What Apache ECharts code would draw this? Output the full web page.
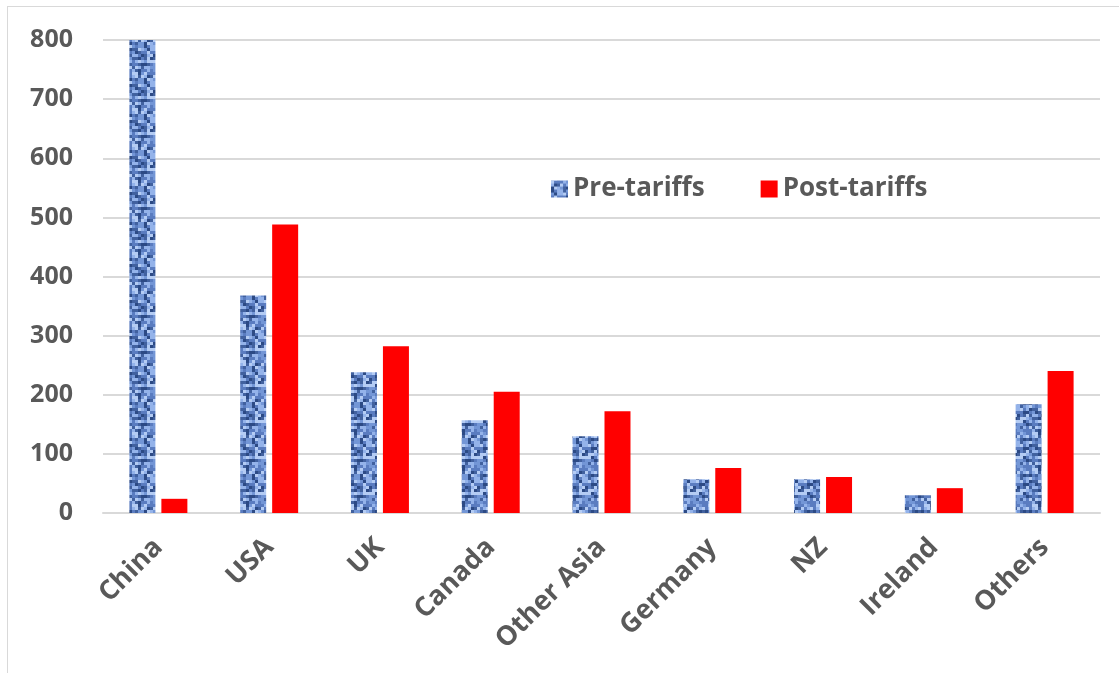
<!DOCTYPE html>
<html>
<head>
<meta charset="utf-8">
<script src="https://cdn.jsdelivr.net/npm/echarts@6/dist/echarts.min.js"></script>
<style>
  html, body { margin: 0; padding: 0; background: #fff; }
  #main { width: 1119px; height: 673px; }
  #frame { position: absolute; left: 7px; top: 6px; width: 1130px; height: 680px; border: 1px solid #d9d9d9; pointer-events: none; }
</style>
</head>
<body>
<div id="main"></div>
<div id="frame"></div>
<script>
var categories = ['China', 'USA', 'UK', 'Canada', 'Other Asia', 'Germany', 'NZ', 'Ireland', 'Others'];
var preTariffs = [800, 368, 238, 157, 130, 57, 57, 30, 184];
var postTariffs = [24, 488, 282, 205, 172, 76, 61, 42, 240];
var yTicks = [0, 100, 200, 300, 400, 500, 600, 700, 800];

// blue mottled texture for the pre-tariff bars
function makeTexture() {
  var c = document.createElement('canvas');
  c.width = 36; c.height = 36;
  var ctx = c.getContext('2d');
  var shades = ['#b4ccf4', '#94b3ea', '#7396d6', '#5a7cc0', '#41619f', '#2c4a85'];
  for (var y = 0; y < 36; y += 3) {
    for (var x = 0; x < 36; x += 3) {
      var h = Math.sin(x * 12.9898 + y * 78.233) * 43758.5453;
      h = h - Math.floor(h);
      ctx.fillStyle = shades[Math.floor(h * shades.length)];
      ctx.fillRect(x, y, 3, 3);
    }
  }
  return c;
}
var texture = makeTexture();

var chartDom = document.getElementById('main');
var myChart = echarts.init(chartDom);
var option;

option = {
  animation: false,
  grid: { left: 103, right: 19, top: 40, bottom: 160 },
  legend: {
    left: 546, top: 171,
    itemWidth: 17, itemHeight: 17, itemGap: 56,
    icon: 'rect',
    textStyle: { fontFamily: 'Open Sans', fontWeight: 'bold', fontSize: 26, color: '#595959' },
    data: ['Pre-tariffs', 'Post-tariffs']
  },
  xAxis: {
    type: 'category',
    data: categories,
    axisTick: { show: false },
    axisLine: { lineStyle: { color: '#d9d9d9', width: 2 } },
    axisLabel: {
      rotate: 45, margin: 30, interval: 0,
      fontFamily: 'Open Sans', fontWeight: 'bold', fontSize: 27, color: '#595959'
    }
  },
  yAxis: {
    type: 'value',
    min: 0, max: 800, interval: 100,
    axisLine: { show: false },
    axisTick: { show: false },
    splitLine: { lineStyle: { color: '#d9d9d9', width: 2 } },
    axisLabel: {
      margin: 30,
      fontFamily: 'Open Sans', fontWeight: 'bold', fontSize: 25, color: '#595959',
      formatter: function (v) { return yTicks.indexOf(v) >= 0 ? String(v) : ''; }
    }
  },
  series: [
    {
      name: 'Pre-tariffs', type: 'bar', barWidth: 26, barGap: '23%',
      itemStyle: { color: { image: texture, repeat: 'repeat' } },
      data: preTariffs
    },
    {
      name: 'Post-tariffs', type: 'bar', barWidth: 26, barGap: '23%',
      itemStyle: { color: '#ff0000' },
      data: postTariffs
    }
  ]
};

option && myChart.setOption(option);
</script>
</body>
</html>
